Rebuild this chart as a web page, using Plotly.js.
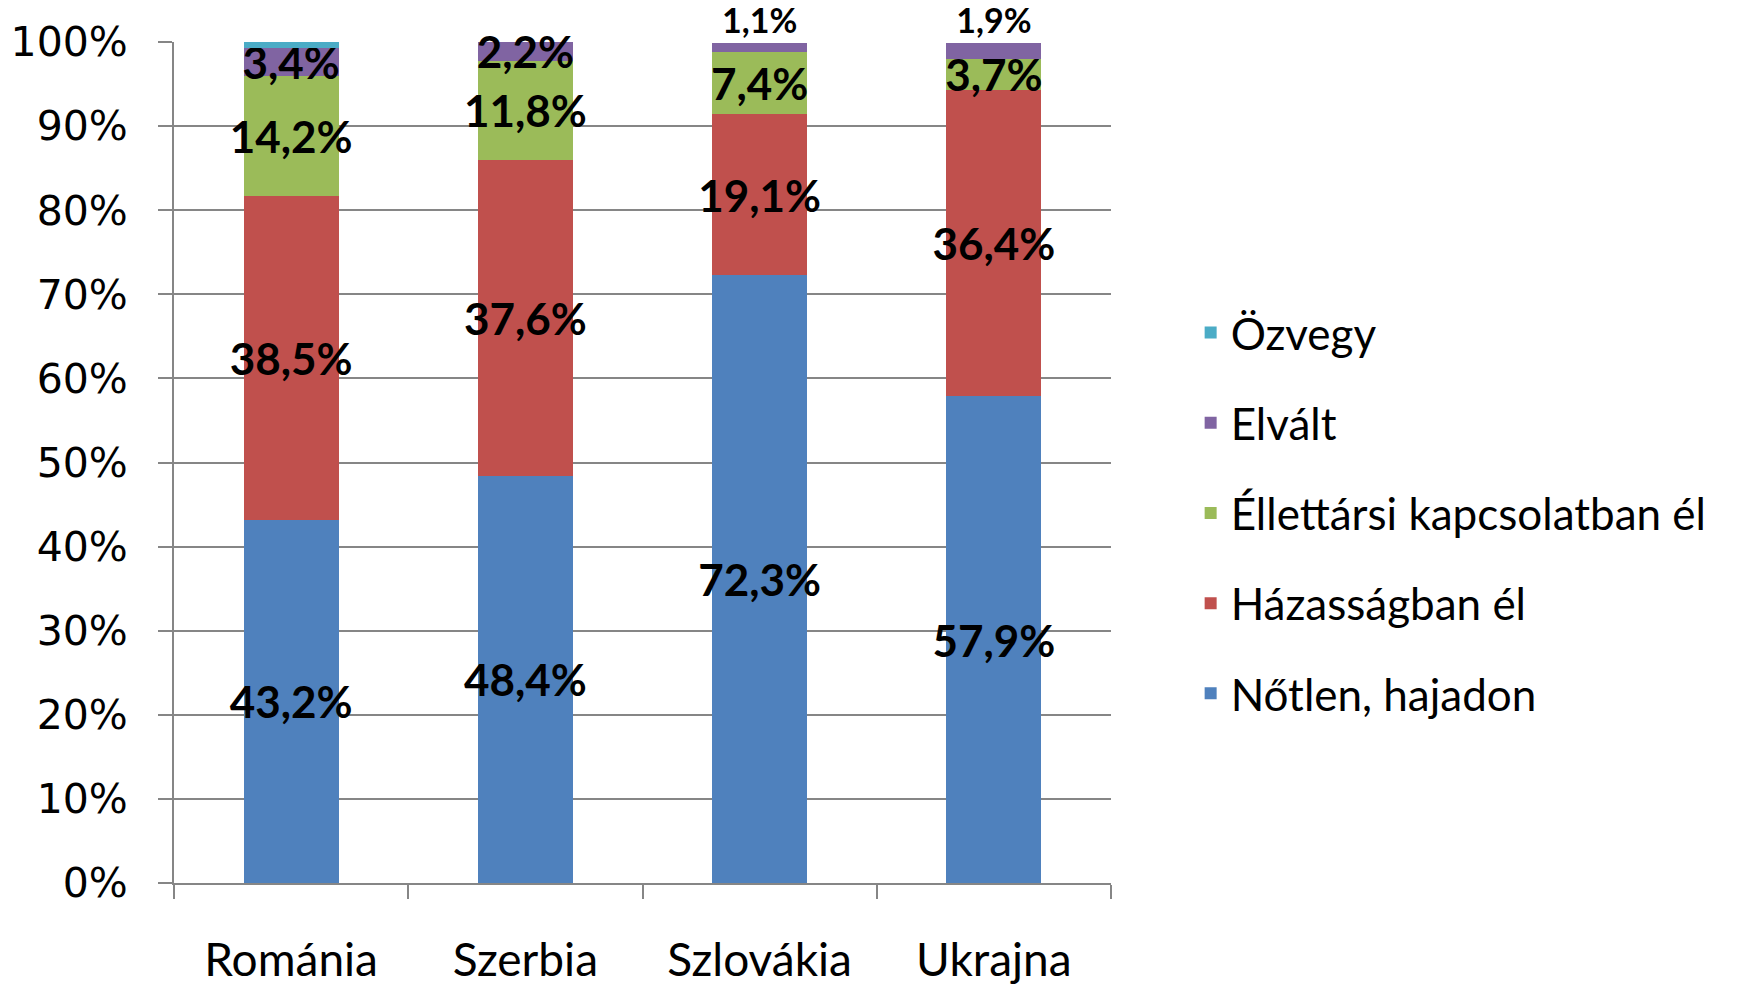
<!DOCTYPE html>
<html><head><meta charset="utf-8">
<script src="https://cdn.plot.ly/plotly-3.0.1.min.js"></script>
<style>html,body{margin:0;padding:0;background:#fff}#chart{width:1764px;height:985px}</style>
</head><body><div id="chart"></div>
<script>
const categories = ["Románia", "Szerbia", "Szlovákia", "Ukrajna"];
const notlen    = [43.2, 48.4, 72.3, 57.9];
const hazassag  = [38.5, 37.6, 19.1, 36.4];
const elettarsi = [14.2, 11.8, 7.4, 3.7];
const elvalt    = [3.4, 2.2, 1.1, 1.9];
const ozvegy    = [0.7, null, null, null];
const seriesNames = ["Nőtlen, hajadon", "Házasságban él", "Éllettársi kapcsolatban él", "Elvált", "Özvegy"];
const seriesColors = ["#4F81BD", "#C0504D", "#9BBB59", "#8064A2", "#4BACC6"];
const yTicks = [0,10,20,30,40,50,60,70,80,90,100];

const allVals = [notlen, hazassag, elettarsi, elvalt, ozvegy];
const traces = allVals.map((vals, i) => ({
  type: 'bar',
  name: seriesNames[i],
  x: categories,
  y: vals,
  legendgroup: 'g' + i,
  legendrank: 5 - i,
  marker: {color: seriesColors[i], line: {width: 0}},
  texttemplate: i === 4 ? '' : '%{y:.1f}%',
  textposition: i === 4 ? 'none' : (i === 3 ? ['inside', 'inside', 'outside', 'outside'] : 'inside'),
  insidetextanchor: 'middle',
  constraintext: 'none',
  cliponaxis: false,
  textangle: 0,
  textfont: {family: 'Lato', size: 44, color: '#000', weight: 'bold'},
  outsidetextfont: {family: 'Lato', size: 34, color: '#000', weight: 'bold'},
  hoverinfo: 'skip'
}));

const layout = {
  width: 1764, height: 985,
  margin: {l: 174, r: 653, t: 42, b: 102},
  paper_bgcolor: '#fff', plot_bgcolor: '#fff',
  barmode: 'stack',
  bargap: 0.595,
  separators: ',.',
  showlegend: true,
  legend: {
    x: 1.085, y: 0.44, xanchor: 'left', yanchor: 'middle',
    traceorder: 'grouped',
    tracegroupgap: 30,
    font: {family: 'Lato', size: 44, color: '#000'},
    itemwidth: 30
  },
  xaxis: {
    type: 'category',
    showgrid: false,
    showline: true, linecolor: '#868686', linewidth: 2,
    ticks: 'outside', tickson: 'boundaries', ticklen: 14, tickcolor: '#868686', tickwidth: 2,
    ticklabelstandoff: 36,
    tickfont: {family: 'Lato', size: 46, color: '#000'}
  },
  yaxis: {
    range: [0, 100],
    tickvals: yTicks,
    ticktext: yTicks.map(v => v + '%'),
    showgrid: true, gridcolor: '#868686', gridwidth: 2,
    showline: true, linecolor: '#868686', linewidth: 2,
    ticks: 'outside', ticklen: 14, tickcolor: '#868686', tickwidth: 2,
    ticklabelstandoff: 22,
    zeroline: false,
    tickfont: {family: 'DejaVu Sans', size: 41, color: '#000'}
  }
};

Plotly.newPlot('chart', traces, layout, {displayModeBar: false, staticPlot: true});
</script></body></html>
